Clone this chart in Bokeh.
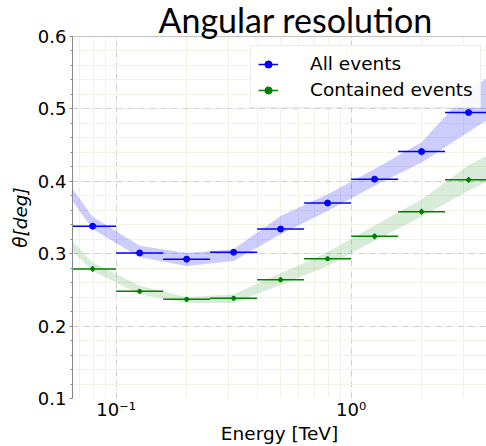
from bokeh.plotting import figure
from bokeh.models import (ColumnDataSource, FixedTicker, Span,
                          Legend, LegendItem, Range1d)
from bokeh.embed import file_html
from bokeh.resources import INLINE

# ---- data ----
bin_lo = [0.0631, 0.1, 0.1585, 0.2512, 0.3981, 0.631, 1.0, 1.585, 2.512]
bin_hi = [0.1, 0.1585, 0.2512, 0.3981, 0.631, 1.0, 1.585, 2.512, 3.981]
bin_center = [0.0794, 0.1259, 0.1995, 0.3162, 0.5012, 0.7943, 1.2589, 1.9953, 3.1623]

all_res = [0.338, 0.301, 0.2925, 0.302, 0.334, 0.370, 0.403, 0.441, 0.495]
all_err = [0.003, 0.002, 0.002, 0.002, 0.002, 0.002, 0.002, 0.003, 0.003]
cont_res = [0.279, 0.248, 0.237, 0.2385, 0.264, 0.293, 0.324, 0.358, 0.402]
cont_err = [0.004, 0.003, 0.003, 0.003, 0.003, 0.003, 0.004, 0.004, 0.004]

band_energy = [0.0501, 0.0794, 0.1259, 0.1995, 0.3162, 0.5012, 0.7943, 1.2589, 1.9953, 3.1623, 5.0119]
all_band_lo = [0.425, 0.334, 0.295, 0.283, 0.290, 0.327, 0.359, 0.394, 0.426, 0.468, 0.510]
all_band_hi = [0.442, 0.351, 0.311, 0.301, 0.306, 0.352, 0.382, 0.417, 0.454, 0.525, 0.570]
cont_band_lo = [0.340, 0.276, 0.244, 0.232, 0.232, 0.257, 0.283, 0.318, 0.351, 0.387, 0.419]
cont_band_hi = [0.357, 0.288, 0.256, 0.240, 0.244, 0.273, 0.302, 0.339, 0.375, 0.422, 0.457]

xtick_vals = [0.1, 1.0]
xtick_labels = ["10⁻¹", "10⁰"]
xminor_vals = [0.07, 0.08, 0.09, 0.2, 0.3, 0.4, 0.5, 0.6, 0.7, 0.8, 0.9, 2.0, 3.0]
ytick_vals = [0.1, 0.2, 0.3, 0.4, 0.5, 0.6]
yminor_vals = [0.12, 0.14, 0.16, 0.18, 0.22, 0.24, 0.26, 0.28, 0.32, 0.34, 0.36, 0.38,
               0.42, 0.44, 0.46, 0.48, 0.52, 0.54, 0.56, 0.58]

series_labels = ["All events", "Contained events"]
title_text = "Angular resolution"

BLUE = "#0000ff"
GREEN = "#008000"
FONT = "DejaVu Sans"

p = figure(width=486, height=446, x_axis_type="log",
           x_range=Range1d(0.0652, 3.77), y_range=Range1d(0.1, 0.6),
           output_backend="svg", toolbar_location=None,
           min_border_left=72, min_border_right=0, min_border_top=0, min_border_bottom=47)
p.outline_line_color = None
p.background_fill_color = "white"

p.title.text = title_text
p.title.text_font = "Lato"
p.title.text_font_size = "34px"
p.title.text_font_style = "normal"
p.title.text_color = "black"
p.title.align = "left"
p.title.offset = 86
p.title.standoff = -7

# grids
for g in (p.xgrid, p.ygrid):
    g.grid_line_color = "#cfcfcf"
    g.grid_line_dash = "6 2 1 2"
    g.grid_line_width = 1
    g.minor_grid_line_color = "#f3f3e3"
    g.minor_grid_line_width = 1

# x axis
p.xaxis.ticker = FixedTicker(ticks=xtick_vals, minor_ticks=xminor_vals)
p.xaxis.major_label_overrides = dict(zip(xtick_vals, xtick_labels))
p.xaxis.axis_line_color = None
p.xaxis.major_tick_line_color = None
p.xaxis.minor_tick_line_color = "#999999"
p.xaxis.major_tick_in = 0
p.xaxis.major_tick_out = 0
p.xaxis.minor_tick_in = 0
p.xaxis.minor_tick_out = 0
p.xaxis.major_label_text_font = FONT
p.xaxis.major_label_text_font_size = "18px"
p.xaxis.major_label_text_color = "black"
p.xaxis.major_label_standoff = 0
p.xaxis.axis_label = "Energy [TeV]"
p.xaxis.axis_label_text_font = FONT
p.xaxis.axis_label_text_font_size = "18.5px"
p.xaxis.axis_label_text_font_style = "normal"
p.xaxis.axis_label_text_color = "black"
p.xaxis.axis_label_standoff = 0

# y axis
p.yaxis.ticker = FixedTicker(ticks=ytick_vals, minor_ticks=yminor_vals)
p.yaxis.axis_line_color = "#888888"
p.yaxis.major_tick_line_color = "#888888"
p.yaxis.minor_tick_line_color = "#888888"
p.yaxis.major_tick_in = 0
p.yaxis.major_tick_out = 3
p.yaxis.minor_tick_in = 0
p.yaxis.minor_tick_out = 2
p.yaxis.major_label_text_font = FONT
p.yaxis.major_label_text_font_size = "18px"
p.yaxis.major_label_text_color = "black"
p.yaxis.major_label_standoff = 3
p.yaxis.axis_label = "θ[deg]"
p.yaxis.axis_label_text_font = FONT
p.yaxis.axis_label_text_font_size = "18.5px"
p.yaxis.axis_label_text_font_style = "italic"
p.yaxis.axis_label_text_color = "black"
p.yaxis.axis_label_standoff = 4

p.add_layout(Span(location=0.6, dimension="width", line_color="#888888", line_width=1))

# bands
p.varea(x=band_energy, y1=all_band_lo, y2=all_band_hi, fill_color=BLUE, fill_alpha=0.2)
p.varea(x=band_energy, y1=cont_band_lo, y2=cont_band_hi, fill_color=GREEN, fill_alpha=0.15)

items = []
for res, err, col, lab, msize in ((all_res, all_err, BLUE, series_labels[0], 6),
                                  (cont_res, cont_err, GREEN, series_labels[1], 4)):
    src = ColumnDataSource(dict(x=bin_center, lo=bin_lo, hi=bin_hi, y=res,
                                ylo=[r - e for r, e in zip(res, err)],
                                yhi=[r + e for r, e in zip(res, err)]))
    rh = p.segment(x0="lo", x1="hi", y0="y", y1="y", source=src, line_color=col, line_width=1.5)
    p.segment(x0="x", x1="x", y0="ylo", y1="yhi", source=src, line_color=col, line_width=1.5)
    rp = p.scatter(x="x", y="y", source=src, size=msize, fill_color=col, line_color=col)
    items.append(LegendItem(label=lab, renderers=[rh, rp]))

legend = Legend(items=items, location=(178, 290), padding=7, spacing=5,
                label_height=18, glyph_height=18, glyph_width=20, label_standoff=32,
                label_text_font=FONT, label_text_font_size="18.5px", label_text_color="black",
                border_line_color="#dddddd", border_line_width=1,
                background_fill_color="white", background_fill_alpha=0.85, margin=0)
p.add_layout(legend, "center")

open("out.html", "w").write(file_html(p, INLINE))
